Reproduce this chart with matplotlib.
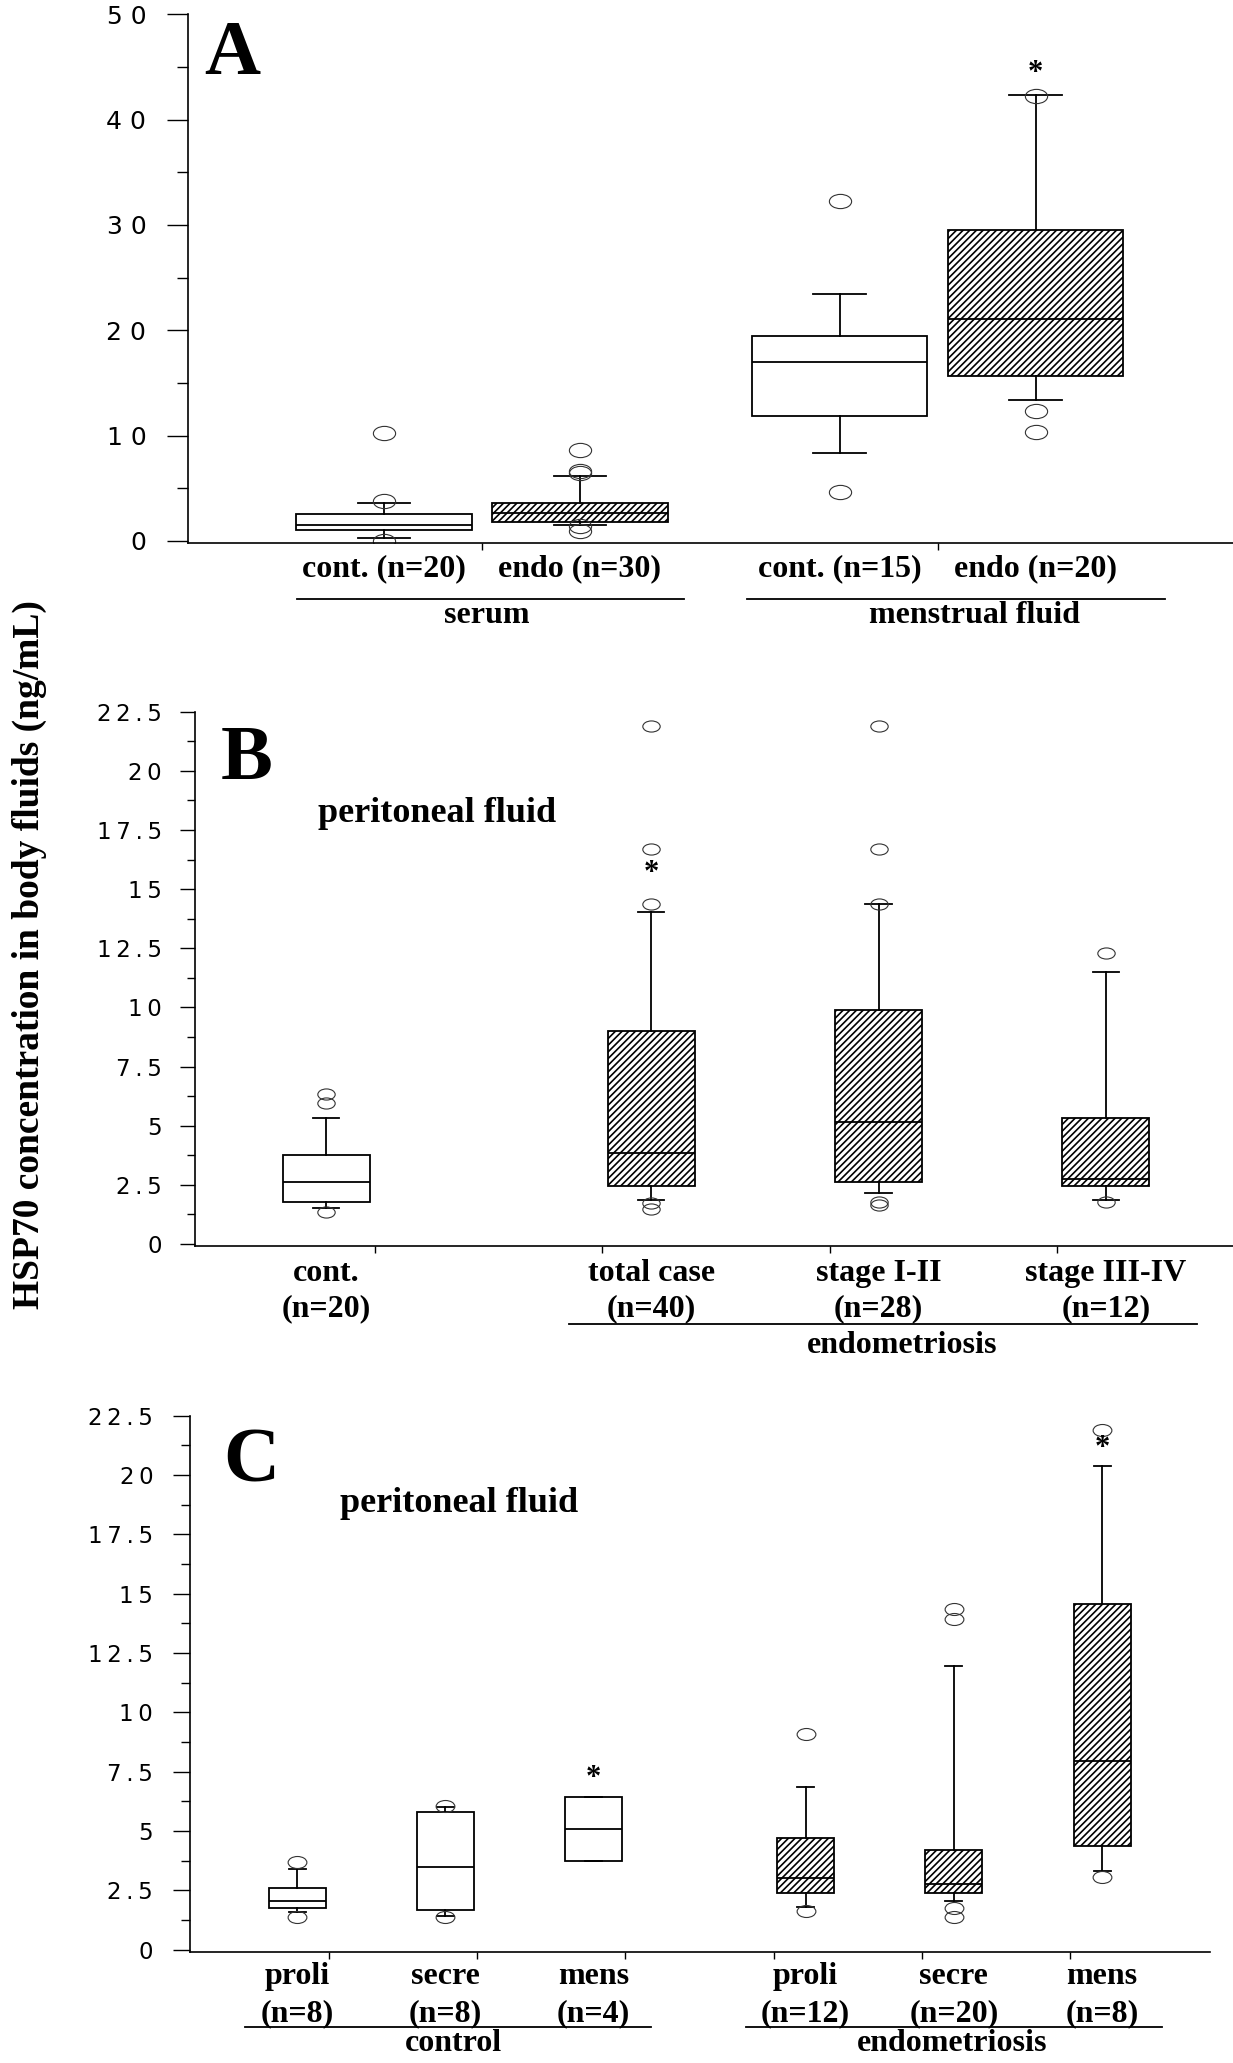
import matplotlib
matplotlib.use("Agg")
import matplotlib.pyplot as plt
from matplotlib.path import Path
from matplotlib.transforms import Affine2D
from matplotlib.markers import MarkerStyle
from matplotlib.ticker import MultipleLocator, FuncFormatter

plt.rcParams["font.family"] = ["DejaVu Sans"]
plt.rcParams["hatch.linewidth"] = 1.2

SERIF = "Liberation Serif"

# ---------------- panel A : serum / menstrual fluid ----------------
a_labels = ["cont. (n=20)", "endo (n=30)", "cont. (n=15)", "endo (n=20)"]
a_cat = [1, 1, 2, 2]
a_hue = [0, 1, 0, 1]          # 0 = control, 1 = endometriosis (hatched)
a_q1 = [1.04, 1.77, 11.85, 15.7]
a_med = [1.55, 2.63, 16.96, 21.1]
a_q3 = [2.56, 3.58, 19.5, 29.55]
a_lo = [0.28, 1.55, 8.3, 13.36]
a_hi = [3.61, 6.14, 23.4, 42.3]
a_fliers = [[10.2, 3.83, 0.03], [8.64, 6.68, 6.43, 1.42, 0.98],
            [32.3, 4.6], [42.25, 12.3, 10.3]]
a_star = [None, None, None, 44.4]
a_groups = ["serum", "menstrual fluid"]

# ---------------- panel B : peritoneal fluid, by stage ----------------
b_labels = ["cont.\n(n=20)", "total case\n(n=40)", "stage I-II\n(n=28)", "stage III-IV\n(n=12)"]
b_cat = [1, 2, 3, 4]
b_hue = [0, 1, 1, 1]
b_q1 = [1.79, 2.44, 2.63, 2.44]
b_med = [2.63, 3.85, 5.16, 2.76]
b_q3 = [3.76, 8.99, 9.89, 5.34]
b_lo = [1.53, 1.87, 2.17, 1.88]
b_hi = [5.34, 14.02, 14.37, 11.51]
b_fliers = [[6.33, 5.95, 1.37], [21.9, 16.69, 14.37, 1.72, 1.46],
            [21.9, 16.69, 14.37, 1.78, 1.64], [12.31, 1.78]]
b_star = [None, 15.65, None, None]

# ---------------- panel C : peritoneal fluid, by cycle phase ----------------
c_labels = ["proli\n(n=8)", "secre\n(n=8)", "mens\n(n=4)",
            "proli\n(n=12)", "secre\n(n=20)", "mens\n(n=8)"]
c_cat = [1, 2, 3, 4, 5, 6]
c_hue = [0, 0, 0, 1, 1, 1]
c_q1 = [1.77, 1.69, 3.73, 2.40, 2.40, 4.37]
c_med = [2.04, 3.49, 5.10, 3.01, 2.76, 7.95]
c_q3 = [2.59, 5.79, 6.43, 4.72, 4.19, 14.56]
c_lo = [1.60, 1.43, 3.73, 1.81, 2.05, 3.33]
c_hi = [3.39, 6.03, 6.43, 6.87, 11.97, 20.37]
c_fliers = [[3.71, 1.39], [6.06, 1.39], [], [9.10, 1.64],
            [14.37, 13.95, 1.77, 1.39], [21.9, 3.08]]
c_star = [None, None, 7.22, None, None, 21.1]

OFFSET = 0.215    # cluster offset of control / endo boxes
BOX_W = 0.385
CAP_W = 0.115
ELLIPSE = MarkerStyle(Path.unit_circle().transformed(Affine2D().scale(1.0, 0.64)))


def spacer(sep):
    return FuncFormatter(lambda v, pos: sep.join(f"{v:g}"))


def draw_panel(ax, cat, hue, q1, med, q3, lo, hi, fliers, stars, msize):
    pos = [c + (OFFSET if h else -OFFSET) for c, h in zip(cat, hue)]
    stats = [dict(q1=a, med=m, q3=b, whislo=l, whishi=u, fliers=f)
             for a, m, b, l, u, f in zip(q1, med, q3, lo, hi, fliers)]
    line = dict(color="black", linewidth=1.3)
    bp = ax.bxp(stats, positions=pos, widths=BOX_W, capwidths=CAP_W,
                patch_artist=True, manage_ticks=False,
                boxprops=dict(facecolor="white", edgecolor="black", linewidth=1.3),
                medianprops=line, whiskerprops=line, capprops=line,
                flierprops=dict(marker=ELLIPSE, markersize=msize, markerfacecolor="none",
                                markeredgecolor="#333333", markeredgewidth=0.8,
                                linestyle="none"))
    for box, h in zip(bp["boxes"], hue):
        if h:
            box.set_hatch("/////")
    for x, s in zip(pos, stars):
        if s is not None:
            ax.text(x, s, "*", ha="center", va="center", fontsize=22,
                    fontweight="bold", family=SERIF)
    return pos


def style_axis(ax, xlim, ylim, major, minor, ticks, fsize, tlen, pad, sep):
    ax.set_xlim(xlim)
    ax.set_ylim(ylim)
    ax.spines[["top", "right"]].set_visible(False)
    ax.spines[["left", "bottom"]].set_linewidth(1.2)
    ax.yaxis.set_major_locator(MultipleLocator(major))
    ax.yaxis.set_minor_locator(MultipleLocator(minor))
    ax.yaxis.set_major_formatter(spacer(sep))
    ax.tick_params(axis="y", which="major", length=tlen, width=1.0,
                   labelsize=fsize, pad=pad)
    ax.tick_params(axis="y", which="minor", length=tlen * 0.55, width=1.0)
    ax.set_xticks(ticks)
    ax.set_xticklabels([])
    ax.tick_params(axis="x", length=5, width=1.0)


def label(ax, x, y, s, size=23):
    ax.text(x, y, s, ha="center", va="center", fontsize=size, fontweight="bold",
            family=SERIF, clip_on=False)


def group_line(ax, x0, x1, y):
    ax.plot([x0, x1], [y, y], color="black", linewidth=1.3, clip_on=False)


fig = plt.figure(figsize=(12.33, 20.63), dpi=100)

# ---- A ----
axA = fig.add_axes([0.15248, 0.73679, 0.84752, 0.25628])
posA = draw_panel(axA, a_cat, a_hue, a_q1, a_med, a_q3, a_lo, a_hi, a_fliers, a_star, 16)
style_axis(axA, (0.355, 2.648), (-0.2, 50), 10, 5, [1, 2], 18, 15, 15, " ")
for x, s in zip(posA, a_labels):
    label(axA, x, -2.6, s)
group_line(axA, 0.594, 1.443, -5.5)
group_line(axA, 1.581, 2.498, -5.5)
label(axA, 1.01, -7.1, a_groups[0])
label(axA, 2.08, -7.1, a_groups[1])
axA.text(0.39, 44.3, "A", fontsize=56, fontweight="bold", family=SERIF, va="baseline")

# ---- B ----
axB = fig.add_axes([0.15815, 0.39617, 0.84185, 0.25889])
posB = draw_panel(axB, b_cat, b_hue, b_q1, b_med, b_q3, b_lo, b_hi, b_fliers, b_star, 12.5)
style_axis(axB, (0.207, 4.775), (-0.07, 22.5), 2.5, 1.25, [1, 2, 3, 4], 16.5, 11, 13, "\u2009")
for x, s in zip(posB, b_labels):
    top, bottom = s.split("\n")
    label(axB, x, -1.23, top)
    label(axB, x, -2.75, bottom)
group_line(axB, 1.855, 4.615, -3.37)
label(axB, 3.32, -4.27, "endometriosis")
axB.text(0.322, 19.65, "B", fontsize=56, fontweight="bold", family=SERIF, va="baseline")
axB.text(0.749, 18.2, "peritoneal fluid", fontsize=26, fontweight="bold", family=SERIF,
         va="center")

# ---- C ----
axC = fig.add_axes([0.15410, 0.05366, 0.82693, 0.26011])
posC = draw_panel(axC, c_cat, c_hue, c_q1, c_med, c_q3, c_lo, c_hi, c_fliers, c_star, 13.5)
style_axis(axC, (0.063, 6.94), (-0.11, 22.5), 2.5, 1.25, [1, 2, 3, 4, 5, 6], 16.5, 12, 14.5,
           "\u2009")
for x, s in zip(posC, c_labels):
    top, bottom = s.split("\n")
    label(axC, x, -1.14, top)
    label(axC, x, -2.70, bottom)
group_line(axC, 0.434, 3.17, -3.25)
group_line(axC, 3.81, 6.62, -3.25)
label(axC, 1.84, -3.97, "control")
label(axC, 5.20, -3.97, "endometriosis")
axC.text(0.286, 19.71, "C", fontsize=56, fontweight="bold", family=SERIF, va="baseline")
axC.text(1.074, 18.8, "peritoneal fluid", fontsize=26, fontweight="bold", family=SERIF,
         va="center")

fig.text(29 / 1233, 1 - 955 / 2063, "HSP70 concentration in body fluids (ng/mL)",
         rotation=90, ha="center", va="center", fontsize=27, fontweight="bold",
         family=SERIF)

fig.savefig("out.png", dpi=100)
